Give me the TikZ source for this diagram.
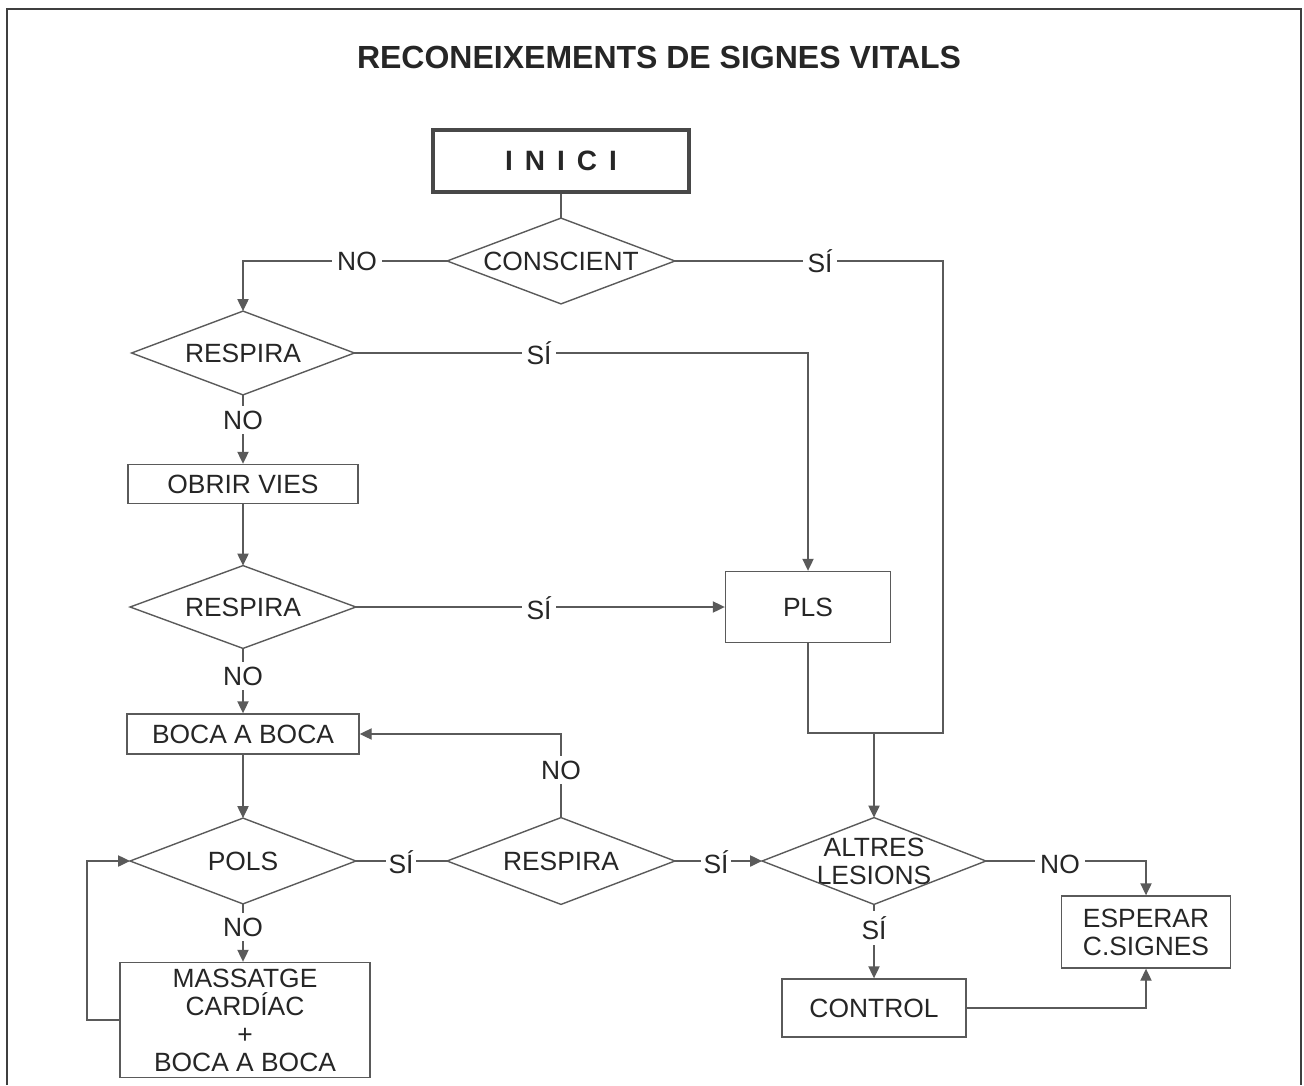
\documentclass[tikz,border=0pt]{standalone}
\usepackage{fontspec}
\setmainfont{Liberation Sans}
\usetikzlibrary{arrows.meta}
\definecolor{ln}{HTML}{5A5A5A}
\definecolor{tx}{HTML}{262626}
\begin{document}
\begin{tikzpicture}[x=0.5pt,y=-0.5pt,
  every node/.style={text=tx, font=\fontsize{13.2}{14}\selectfont},
  conn/.style={draw=ln, line width=0.7pt},
  arr/.style={conn, -{Triangle[length=6pt,width=5.6pt]}},
  box/.style={draw=ln, line width=0.7pt, inner sep=0pt, align=center},
  dia/.style={inner sep=0pt, align=center},
  lbl/.style={fill=white, inner sep=2.5pt},
]
\useasboundingbox (0,0) rectangle (1304,1085);
% outer frame
\draw[line width=1pt, draw=ln!70!black] (7,1085) -- (7,9) -- (1301,9) -- (1301,1085);

% title
\node (title) at (659,57) {\fontsize{16}{18}\selectfont\bfseries RECONEIXEMENTS DE SIGNES VITALS};

% nodes
\node[box, draw=ln!80!black, line width=2.3pt, minimum width=128pt, minimum height=31pt] (inici) at (561,161)
  {\fontsize{14}{16}\selectfont\bfseries\makebox[13pt]{I}\makebox[13pt]{N}\makebox[13pt]{I}\makebox[13pt]{C}\makebox[13pt]{I}};
\node[dia, minimum width=113.5pt, minimum height=42.5pt] (consc) at (561,261) {CONSCIENT};
\node[dia, minimum width=111pt, minimum height=41.5pt] (resp1) at (243,353) {RESPIRA};
\node[box, minimum width=115pt, minimum height=19.5pt] (obrir) at (243,484) {OBRIR VIES};
\node[dia, minimum width=112.5pt, minimum height=41pt] (resp2) at (243,607) {RESPIRA};
\node[box, minimum width=82.5pt, minimum height=35.5pt] (pls) at (808,607) {PLS};
\node[box, minimum width=116pt, minimum height=20pt] (boca) at (243,734) {BOCA A BOCA};
\node[dia, minimum width=112.5pt, minimum height=42.5pt] (pols) at (243,861) {POLS};
\node[dia, minimum width=113.5pt, minimum height=43pt] (resp3) at (561,861) {RESPIRA};
\node[dia, minimum width=111.5pt, minimum height=43pt] (altres) at (874,861)
  {\fontsize{13.2}{12}\selectfont ALTRES\\LESIONS};
\node[box, minimum width=84.5pt, minimum height=36pt] (esperar) at (1146,932)
  {\fontsize{13.2}{16}\selectfont ESPERAR\\C.SIGNES};
\node[box, minimum width=92pt, minimum height=29pt] (control) at (874,1008) {CONTROL};
\node[box, minimum width=125pt, minimum height=57.5pt] (mass) at (245,1020)
  {\fontsize{13.2}{13.5}\selectfont MASSATGE\\CARDÍAC\\+\\BOCA A BOCA};

\foreach \n in {consc,resp1,resp2,pols,resp3,altres}
  \draw[conn] (\n.north) -- (\n.east) -- (\n.south) -- (\n.west) -- cycle;

% helper coordinates
\coordinate (jr) at (943,733);
\coordinate (jm) at (altres.north |- jr);
\coordinate (lp) at (87,1020);

% connectors
\draw[conn] (inici.south) -- (consc.north);
\draw[arr] (consc.west) -| (resp1.north);
\draw[conn] (consc.east) -| (jr) -- (jm);
\draw[conn] (pls.south) |- (jm);
\draw[arr] (jm) -- (altres.north);
\draw[arr] (resp1.east) -| (pls.north);
\draw[arr] (resp1.south) -- (obrir.north);
\draw[arr] (obrir.south) -- (resp2.north);
\draw[arr] (resp2.east) -- (pls.west);
\draw[arr] (resp2.south) -- (boca.north);
\draw[arr] (boca.south) -- (pols.north);
\draw[arr] (resp3.north) |- (boca.east);
\draw[conn] (pols.east) -- (resp3.west);
\draw[arr] (pols.south) -- (pols.south |- mass.north);
\draw[arr] (resp3.east) -- (altres.west);
\draw[arr] (altres.east) -| (esperar.north);
\draw[arr] (altres.south) -- (control.north);
\draw[arr] (control.east) -| (esperar.south);
\draw[arr] (mass.west) -- (lp) |- (pols.west);

% labels
\node[lbl] (l1) at (357,261) {NO};
\node[lbl] (l2) at (820,261) {SÍ};
\node[lbl] (l3) at (539,353) {SÍ};
\node[lbl] (l4) at (243,420) {NO};
\node[lbl] (l5) at (539,608) {SÍ};
\node[lbl] (l6) at (243,676) {NO};
\node[lbl] (l7) at (561,770) {NO};
\node[lbl, inner sep=1.5pt] (l8) at (401,862) {SÍ};
\node[lbl, inner sep=1.5pt] (l9) at (716,862) {SÍ};
\node[lbl] (l10) at (1060,864) {NO};
\node[lbl] (l11) at (874,928) {SÍ};
\node[lbl] (l12) at (243,927) {NO};
\end{tikzpicture}
\end{document}
